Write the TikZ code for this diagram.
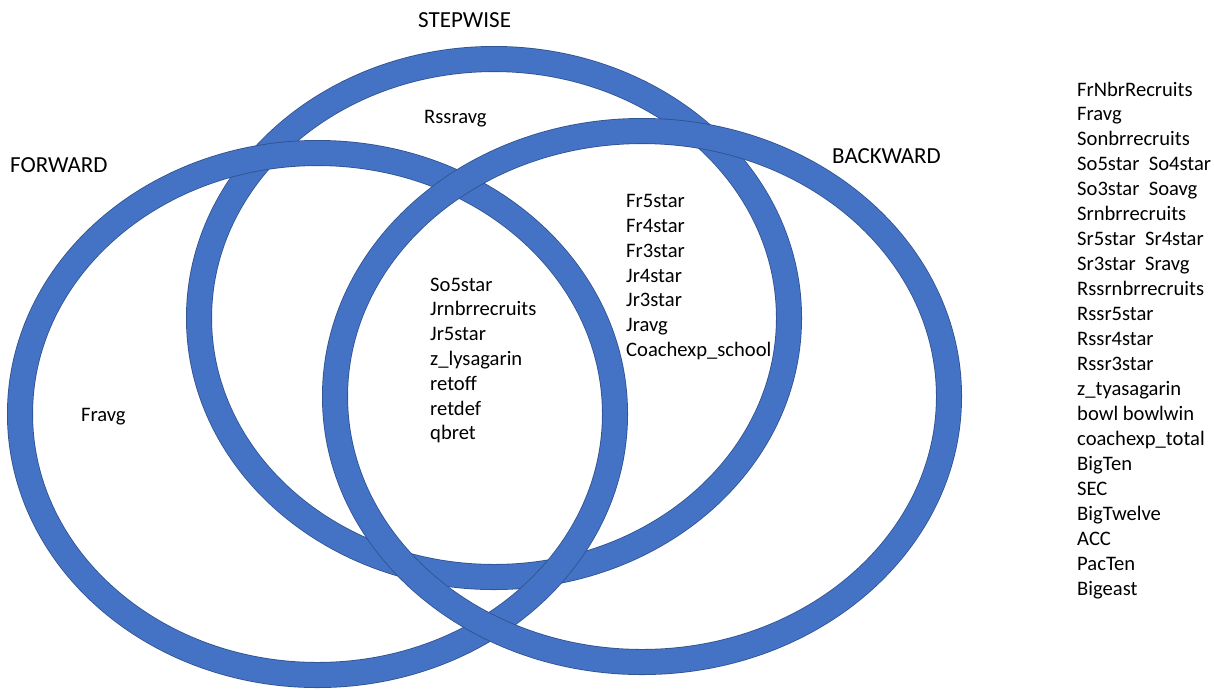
\documentclass[tikz,border=0pt]{standalone}
\usepackage{fontspec}
\setmainfont{Carlito}
\definecolor{ringfill}{HTML}{4472C4}
\definecolor{ringedge}{HTML}{2F528F}
\tikzset{
  ringout/.style={draw=ringedge, line width=26pt},
  ringin/.style={draw=ringfill, line width=24.4pt},
  lbl/.style={anchor=base west, inner sep=0pt, font=\fontsize{20.6}{24.8}\selectfont, text=black},
  ttl/.style={lbl, font=\fontsize{23}{27}\selectfont}
}
\begin{document}
\begin{tikzpicture}[x=1pt,y=-1pt]
\useasboundingbox (0,0) rectangle (1214,689);
% stepwise ring
\draw[ringout] (494,318) ellipse [x radius=295pt, y radius=259pt];
\draw[ringin] (494,318) ellipse [x radius=295pt, y radius=259pt];
% forward ring
\draw[ringout] (317.5,414) ellipse [x radius=297.5pt, y radius=261pt];
\draw[ringin] (317.5,414) ellipse [x radius=297.5pt, y radius=261pt];
% backward ring
\draw[ringout] (642,396.5) ellipse [x radius=307pt, y radius=265.5pt];
\draw[ringin] (642,396.5) ellipse [x radius=307pt, y radius=265.5pt];
% titles
\node[ttl] (tstep) at (418,27) {STEPWISE};
\node[ttl] (tfwd) at (10,172) {FORWARD};
\node[ttl] (tbwd) at (832,163) {BACKWARD};
% region labels
\node[lbl] (rss) at (424,123) {Rssravg};
\node[lbl] (fra) at (81,421) {Fravg};
% center list
\foreach \t [count=\i from 0] in {So5star,Jrnbrrecruits,Jr5star,z\_lysagarin,retoff,retdef,qbret}
  \node[lbl] (c\i) at (430,291+24.8*\i) {\t};
% right list
\foreach \t [count=\i from 0] in {Fr5star,Fr4star,Fr3star,Jr4star,Jr3star,Jravg,Coachexp\_school}
  \node[lbl] (b\i) at (626,207.6+24.8*\i) {\t};
% far right list
\foreach \t [count=\i from 0] in {FrNbrRecruits,Fravg,Sonbrrecruits,So5star\ \ So4star,So3star\ \ Soavg,Srnbrrecruits,Sr5star\ \ Sr4star,Sr3star\ \ Sravg,Rssrnbrrecruits,Rssr5star,Rssr4star,Rssr3star,z\_tyasagarin,bowl bowlwin,coachexp\_total,BigTen,SEC,BigTwelve,ACC,PacTen,Bigeast}
  \node[lbl] (n\i) at (1077,96+24.95*\i) {\t};
\end{tikzpicture}
\end{document}
